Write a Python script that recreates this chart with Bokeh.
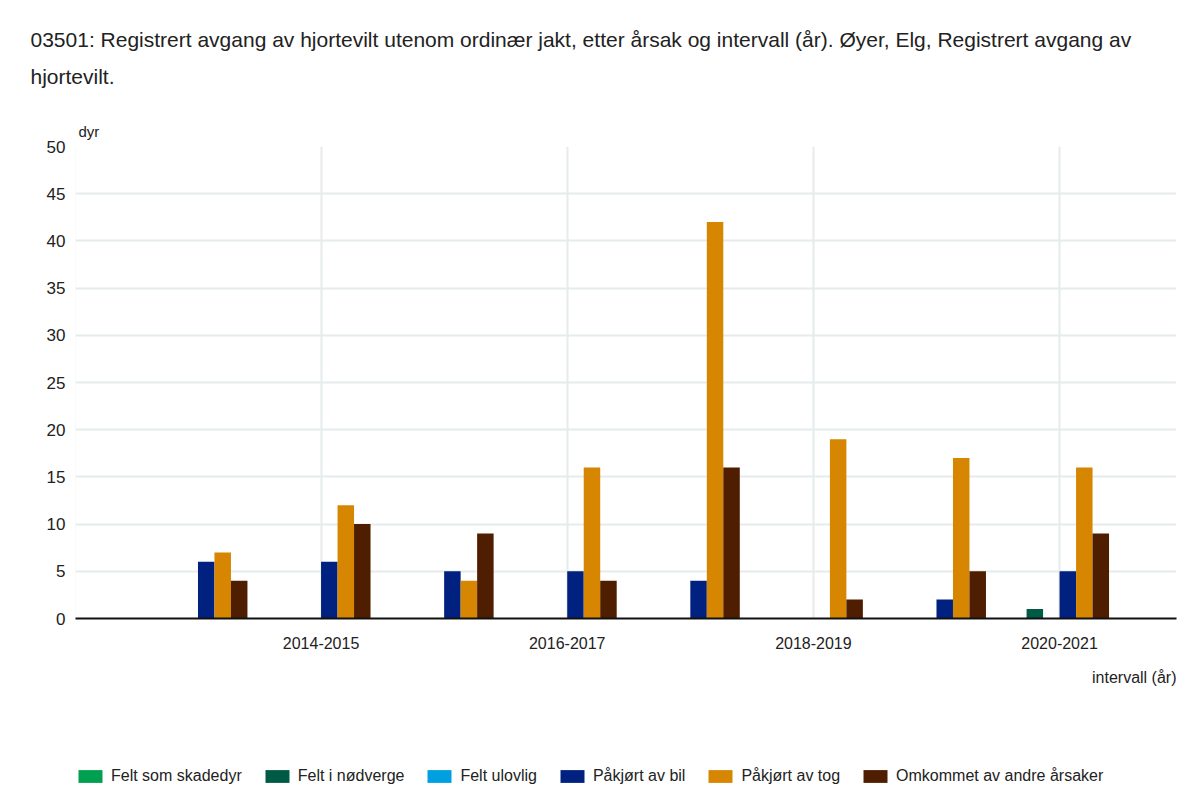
from bokeh.plotting import figure
from bokeh.layouts import column
from bokeh.models import (ColumnDataSource, FixedTicker, SingleIntervalTicker, Title,
                          Legend, LegendItem, Range1d)
from bokeh.transform import dodge
from bokeh.embed import file_html
from bokeh.resources import INLINE

# ---- data ----
intervals = ["2013-2014", "2014-2015", "2015-2016", "2016-2017",
             "2017-2018", "2018-2019", "2019-2020", "2020-2021"]
felt_som_skadedyr = [0, 0, 0, 0, 0, 0, 0, 0]
felt_i_nodverge = [0, 0, 0, 0, 0, 0, 0, 1]
felt_ulovlig = [0, 0, 0, 0, 0, 0, 0, 0]
pakjort_av_bil = [6, 6, 5, 5, 4, 0, 2, 5]
pakjort_av_tog = [7, 12, 4, 16, 42, 19, 17, 16]
omkommet_andre = [4, 10, 9, 4, 16, 2, 5, 9]
labelled_ticks = ["2014-2015", "2016-2017", "2018-2019", "2020-2021"]

series_names = ["Felt som skadedyr", "Felt i nødverge", "Felt ulovlig",
                "Påkjørt av bil", "Påkjørt av tog", "Omkommet av andre årsaker"]
colors = ["#00A050", "#005A46", "#00A0E0", "#002180", "#D68600", "#4F1E00"]

FONT = "Liberation Sans"
TXT = "#222222"

src = ColumnDataSource(dict(
    x=list(range(len(intervals))),
    s0=felt_som_skadedyr, s1=felt_i_nodverge, s2=felt_ulovlig,
    s3=pakjort_av_bil, s4=pakjort_av_tog, s5=omkommet_andre,
))

p = figure(frame_width=1101, frame_height=472,
           x_range=Range1d(-0.995, 7.95), y_range=Range1d(0, 50),
           output_backend="svg", toolbar_location=None,
           min_border_left=75, min_border_right=4, min_border_top=0, min_border_bottom=0)
p.outline_line_color = None
p.background_fill_color = "white"
p.border_fill_color = "white"

bw = 0.134
for k, col in enumerate(colors):
    p.vbar(x=dodge("x", (k - 2.5) * bw, range=p.x_range), top=f"s{k}", width=bw,
           source=src, fill_color=col, line_color=None)

# axes
tick_pos = [-1] + [intervals.index(t) for t in labelled_ticks]
p.xaxis.ticker = FixedTicker(ticks=tick_pos)
overrides = {-1: ""}
for t in labelled_ticks:
    overrides[intervals.index(t)] = t
p.xaxis.major_label_overrides = overrides
p.xaxis.axis_line_color = "#111111"
p.xaxis.axis_line_width = 2
p.xaxis.major_tick_line_color = None
p.xaxis.major_tick_out = 0
p.xaxis.major_tick_in = 0
p.xaxis.minor_tick_line_color = None
p.xaxis.major_label_text_font = FONT
p.xaxis.major_label_text_font_size = "16px"
p.xaxis.major_label_text_color = TXT
p.xaxis.major_label_standoff = 18

p.yaxis.ticker = SingleIntervalTicker(interval=5)
p.yaxis.axis_line_color = None
p.yaxis.major_tick_line_color = None
p.yaxis.minor_tick_line_color = None
p.yaxis.major_label_text_font = FONT
p.yaxis.major_label_text_font_size = "17px"
p.yaxis.major_label_text_color = TXT
p.yaxis.major_label_standoff = 4

p.xgrid.grid_line_color = "#E6EBEB"
p.xgrid.grid_line_width = 2
p.ygrid.grid_line_color = "#E6EBEB"
p.ygrid.grid_line_width = 2

# header texts (stacked outward from the plot frame)
title_text = ("03501: Registrert avgang av hjortevilt utenom ordinær jakt, etter årsak og "
              "intervall (år). Øyer, Elg, Registrert avgang av\nhjortevilt.")
p.add_layout(Title(text="dyr", align="left", offset=3, text_font=FONT,
                   text_font_size="15px", text_font_style="normal",
                   text_color=TXT, standoff=14), "above")
p.add_layout(Title(text=title_text, align="left", offset=-45, text_font=FONT,
                   text_font_size="21px", text_font_style="normal", text_line_height=1.6,
                   text_color=TXT, standoff=51), "above")

# below: axis label on the right
p.add_layout(Title(text="intervall (år)", align="right", offset=0, text_font=FONT,
                   text_font_size="16px", text_font_style="normal",
                   text_color=TXT, standoff=31), "below")

# ---- legend strip (separate figure; its helper bars stay outside its view) ----
lf = figure(width=1180, height=95, x_range=Range1d(0, 1), y_range=Range1d(100, 101),
            output_backend="svg", toolbar_location=None,
            x_axis_location=None, y_axis_location=None,
            min_border_left=0, min_border_right=0, min_border_top=0, min_border_bottom=0)
lf.outline_line_color = None
lf.background_fill_color = "white"
lf.border_fill_color = "white"
lf.xgrid.visible = False
lf.ygrid.visible = False

items = []
for k, (name, col) in enumerate(zip(series_names, colors)):
    r = lf.vbar(x=dodge("x", (k - 2.5) * bw, range=lf.x_range), top=f"s{k}", width=bw,
                source=src, fill_color=col, line_color=None)
    items.append(LegendItem(label=name, renderers=[r]))

legend = Legend(items=items, orientation="horizontal", location=(0, 11),
                glyph_width=30, glyph_height=16, label_standoff=6, spacing=20,
                padding=0, margin=0, border_line_color=None, background_fill_alpha=0,
                label_text_font=FONT, label_text_font_size="16px",
                label_text_color=TXT)
lf.add_layout(legend, "center")

layout = column(p, lf, spacing=0)
open("out.html", "w").write(file_html(layout, INLINE))
